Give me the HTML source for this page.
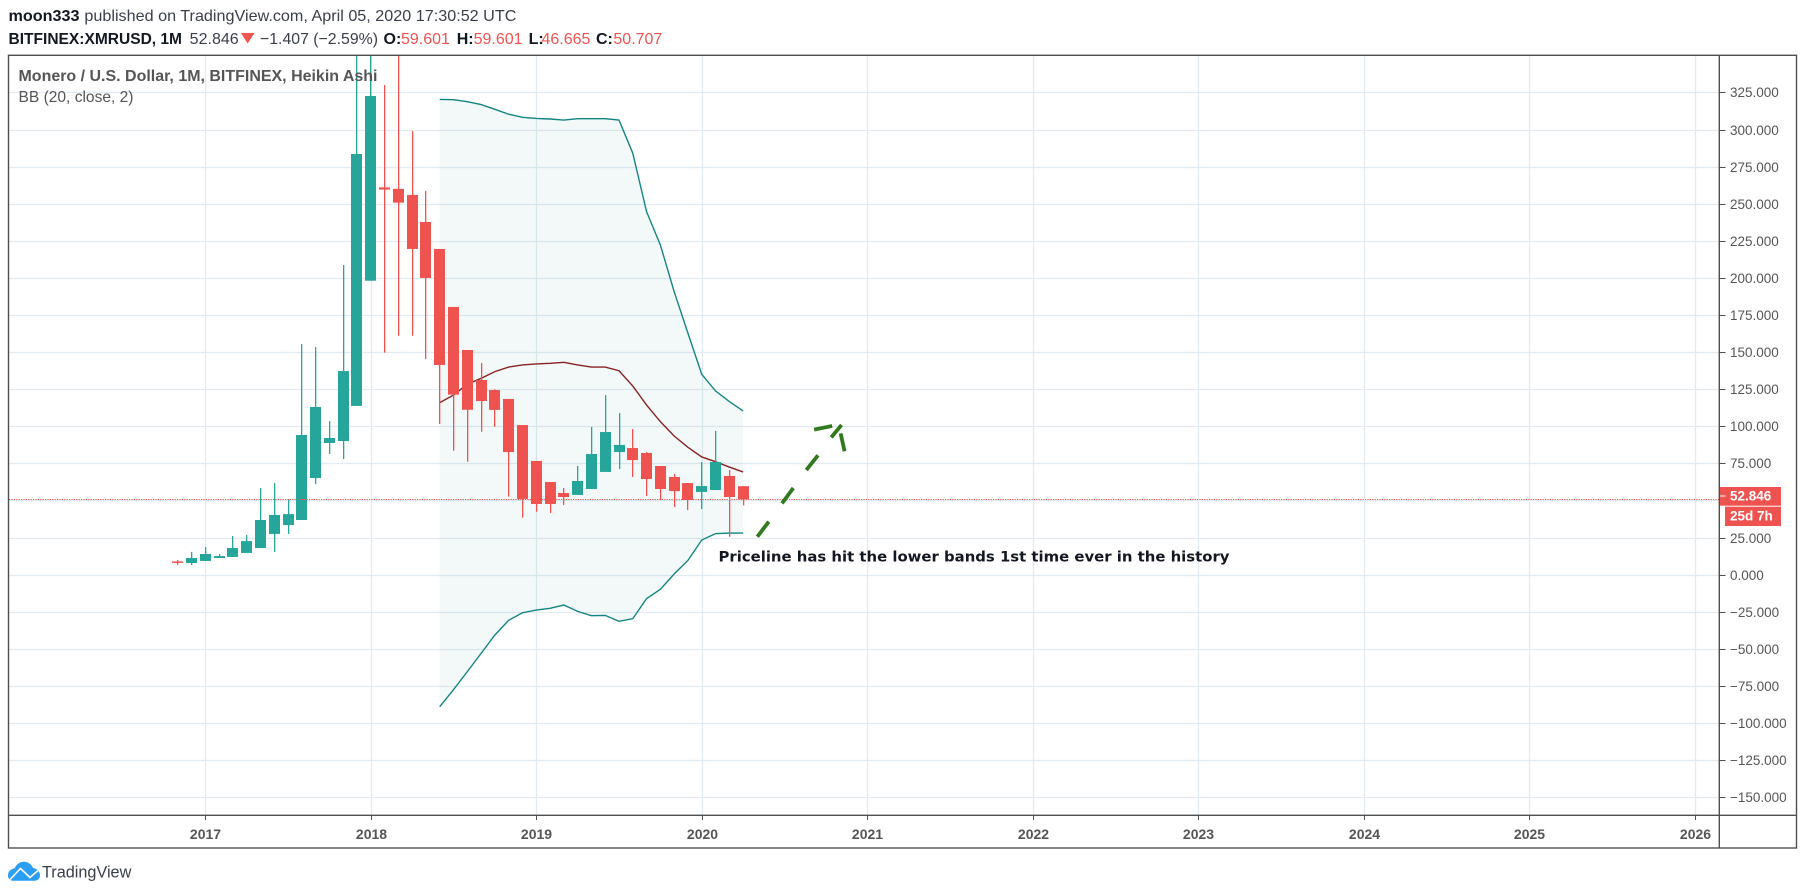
<!DOCTYPE html>
<html lang="en">
<head>
<meta charset="utf-8">
<title>XMRUSD Heikin Ashi chart</title>
<style>
  html, body { margin: 0; padding: 0; background: #fff; }
  svg { display: block; font-family: "Liberation Sans", Arial, sans-serif; }
</style>
</head>
<body>
<svg id="chart" xmlns="http://www.w3.org/2000/svg" width="1805" height="895" viewBox="0 0 1805 895">
  <defs>
    <clipPath id="pane-clip"><rect x="9" y="56" width="1710" height="759"/></clipPath>
  </defs>
  <rect x="0" y="0" width="1805" height="895" fill="#ffffff"/>

  <g>
    <text x="8.5" y="21" font-size="16" font-weight="700" fill="#131722" textLength="71" lengthAdjust="spacingAndGlyphs">moon333</text>
    <text x="84.4" y="21" font-size="16" fill="#3a3e49" textLength="432" lengthAdjust="spacingAndGlyphs">published on TradingView.com, April 05, 2020 17:30:52 UTC</text>
  </g>
  <g>
    <text x="8.5" y="44" font-size="16" font-weight="700" fill="#131722" textLength="173.5" lengthAdjust="spacingAndGlyphs">BITFINEX:XMRUSD, 1M</text>
    <text x="189.7" y="44" font-size="16" fill="#3a3e49" textLength="49" lengthAdjust="spacingAndGlyphs">52.846</text>
    <polygon points="241,33 254.5,33 247.7,43.5" fill="#ef5350"/>
    <text x="260" y="44" font-size="16" fill="#3a3e49" textLength="118" lengthAdjust="spacingAndGlyphs">−1.407 (−2.59%)</text>
    <text x="383.5" y="44" font-size="16" font-weight="700" fill="#131722">O:</text>
    <text x="401" y="44" font-size="16" fill="#ef5350">59.601</text>
    <text x="456.7" y="44" font-size="16" font-weight="700" fill="#131722">H:</text>
    <text x="473.6" y="44" font-size="16" fill="#ef5350">59.601</text>
    <text x="528.6" y="44" font-size="16" font-weight="700" fill="#131722">L:</text>
    <text x="541.5" y="44" font-size="16" fill="#ef5350">46.665</text>
    <text x="596" y="44" font-size="16" font-weight="700" fill="#131722">C:</text>
    <text x="613.4" y="44" font-size="16" fill="#ef5350">50.707</text>
  </g>

  <g id="grid"></g>
  <g id="bands" clip-path="url(#pane-clip)"></g>
  <g id="bars" clip-path="url(#pane-clip)"></g>
  <g id="price-line"></g>
  <g id="arrow" clip-path="url(#pane-clip)"></g>

  <text x="718.5" y="561.5" font-family="'DejaVu Sans', 'Liberation Sans', sans-serif" font-size="14" font-weight="700" fill="#131722" textLength="511" lengthAdjust="spacingAndGlyphs">Priceline has hit the lower bands 1st time ever in the history</text>

  <text x="18.5" y="81" font-size="16" font-weight="700" fill="#555555" textLength="359" lengthAdjust="spacingAndGlyphs">Monero / U.S. Dollar, 1M, BITFINEX, Heikin Ashi</text>
  <text x="18.5" y="102" font-size="16" fill="#555555" textLength="115" lengthAdjust="spacingAndGlyphs">BB (20, close, 2)</text>

  <g id="axes"></g>

  <g fill="none" stroke="#4f4f4f" stroke-width="1.4">
    <rect x="8.5" y="55.3" width="1788" height="792.7"/>
    <line x1="1719.3" y1="55" x2="1719.3" y2="848"/>
    <line x1="8.5" y1="815.3" x2="1796.5" y2="815.3"/>
  </g>

  <g>
    <rect x="1720" y="487" width="61" height="18.7" fill="#ef5350"/>
    <line x1="1720" y1="496" x2="1725.5" y2="496" stroke="#ffffff" stroke-width="1"/>
    <text x="1730" y="500.5" font-size="13.5" font-weight="700" fill="#ffffff">52.846</text>
    <rect x="1725" y="506.7" width="56" height="19.3" fill="#ef5350"/>
    <text x="1730" y="520.5" font-size="13.5" font-weight="700" fill="#ffffff">25d 7h</text>
  </g>

  <g>
    <path d="M8 875.500 C8 871.500 10.500 869 14.500 868.500 C16.500 864 20 861.700 24 861.700 C28.500 861.700 31.500 864.500 33 868 C37 868.500 40 871.500 40 875.500 C40 878.500 37.500 880.700 35 880.700 L13 880.700 C10 880.700 8 878.500 8 875.500 Z" fill="#2a9df4"/>
    <polyline points="10,879.500 20.500,868.500 30,877.500 38,870.500" fill="none" stroke="#ffffff" stroke-width="1.6"/>
    <text x="42" y="877.500" font-size="17" fill="#3a3e49" textLength="89.300" lengthAdjust="spacingAndGlyphs">TradingView</text>
  </g>
</svg>

<script>
const SVG_NS = 'http://www.w3.org/2000/svg';

// Monthly Heikin Ashi candles
const barMonths = ['2016-11','2016-12','2017-01','2017-02','2017-03','2017-04','2017-05','2017-06','2017-07','2017-08','2017-09','2017-10','2017-11','2017-12','2018-01','2018-02','2018-03','2018-04','2018-05','2018-06','2018-07','2018-08','2018-09','2018-10','2018-11','2018-12','2019-01','2019-02','2019-03','2019-04','2019-05','2019-06','2019-07','2019-08','2019-09','2019-10','2019-11','2019-12','2020-01','2020-02','2020-03','2020-04'];
const opens  = [8.9,7.8,9.2,11.2,11.9,14.6,17.9,27.4,33.4,36.8,65.1,88.7,90,113.7,198.1,261,260,255.9,237.7,219.5,180.4,151.4,131.2,124.4,118.4,100.8,76.6,62.4,55,53.7,57.7,69.2,82.6,85.3,82,73.2,65.8,61.7,55.7,57,66.5,59.601];
const closes = [7.9,11.2,13.9,12.5,17.9,22.6,36.8,40.2,40.8,94.1,113,92.1,137.2,283.5,322.6,259.5,250.7,219.5,199.9,141.3,121.3,111.1,117,111,82.6,51,47.6,47.6,52.3,63.1,81.3,96.1,87.4,77.2,64.4,57.7,56.3,50.3,59.7,75.9,52.3,50.707];
const highs  = [9.8,15.3,18.6,13.9,26,26.7,58.4,61.7,51,155.4,153.4,103.5,208.7,400,400,330,400,299,258.6,219.5,180.4,151.4,142.6,124.9,118.4,100.8,76.6,62.4,58.4,73.2,99.5,121,108.9,98.1,82.6,73.2,67.8,61.7,75.9,96.8,70.5,59.601];
const lows   = [6.5,6.5,9.2,11.2,11.9,14.6,17.9,15.2,27.4,36.8,61,81.3,77.9,113.7,198.1,149.6,161,161,145.3,101.5,83.5,76.1,96.3,99.7,52.5,38.4,42.4,41.5,46.9,53.7,57.7,69.2,71.2,65.8,53,50.3,45.6,43.5,44.2,57,25.5,46.665];

// Bollinger Bands (20, close, 2)
const bandMonths = ['2018-06','2018-07','2018-08','2018-09','2018-10','2018-11','2018-12','2019-01','2019-02','2019-03','2019-04','2019-05','2019-06','2019-07','2019-08','2019-09','2019-10','2019-11','2019-12','2020-01','2020-02','2020-03','2020-04'];
const bandUpper = [320.3,320.1,318.8,316.8,313.6,310.3,308.2,307.5,307.1,306.4,307.3,307.3,307.3,306.4,284,244.6,222.2,190.7,162.7,135,123.8,116.6,110.3];
const bandBasis = [115.9,121,128.3,132.3,136.8,139.9,141.3,142,142.4,143.1,141.3,139.9,139.9,137.4,127.1,114.3,103.1,93.4,85.8,79.3,76.1,72.5,69.2];
const bandLower = [-89,-77.6,-65.4,-53.1,-40.7,-30.8,-25.7,-23.9,-22.7,-20.5,-24.8,-27.7,-27.5,-31.5,-29.7,-16.2,-9.9,0.4,9.6,23.3,27.6,28,28];

// Axis tick labels
const priceTicks = [325,300,275,250,225,200,175,150,125,100,75,50,25,0,-25,-50,-75,-100,-125,-150];
const yearTicks = [2017,2018,2019,2020,2021,2022,2023,2024,2025,2026];

// Last close used for the price line
const lastClose = [50.707];

// Forecast arrow dashes: month offsets from Jan 2017 and prices
const arrowStartMonths = [40.03,41.82,43.58,44.15,45.39,46.07];
const arrowStartValues = [25.5,48,70.5,97.7,92.5,95.2];
const arrowEndMonths   = [40.86,42.64,44.43,45.46,46.14,46.36];
const arrowEndValues   = [35.7,58.4,80.4,100.2,100.9,83.1];

function monthIndex(label) {
  const parts = label.split('-');
  return (Number(parts[0]) - 2017) * 12 + Number(parts[1]) - 1;
}
function xAt(index) { return 205.3 + index * 13.79; }
function yAt(value) { return 574.6 - value * 1.4836; }
function make(tag, attrs) {
  const el = document.createElementNS(SVG_NS, tag);
  for (const key in attrs) el.setAttribute(key, attrs[key]);
  return el;
}
function pointsFrom(months, values) {
  return months.map((m, i) => xAt(monthIndex(m)).toFixed(2) + ',' + yAt(values[i]).toFixed(2));
}

const gridLayer = document.getElementById('grid');
const axesLayer = document.getElementById('axes');
const bandLayer = document.getElementById('bands');
const barLayer = document.getElementById('bars');
const priceLayer = document.getElementById('price-line');
const arrowLayer = document.getElementById('arrow');

priceTicks.forEach(v => {
  const y = Math.round(yAt(v)) + 0.5;
  const gridLine = make('line', { x1: 9, y1: y, x2: 1719, y2: y, stroke: '#e1ebf1', 'stroke-width': 1.3 });
  
  
  gridLayer.appendChild(gridLine);
  const tick = make('line', { x1: 1719.5, y1: y, x2: 1725.5, y2: y, stroke: '#4f4f4f', 'stroke-width': 1 });
  
  
  axesLayer.appendChild(tick);
  const label = make('text', { x: 1730, y: y + 4.5, 'font-size': 13.5, fill: '#555555' });
  label.textContent = (v < 0 ? '−' : '') + Math.abs(v).toFixed(3);
  
  
  axesLayer.appendChild(label);
});

yearTicks.forEach(year => {
  const x = Math.round(xAt(monthIndex(year + '-01'))) + 0.5;
  const gridLine = make('line', { x1: x, y1: 56, x2: x, y2: 815, stroke: '#e1ebf1', 'stroke-width': 1.3 });
  
  
  gridLayer.appendChild(gridLine);
  const tick = make('line', { x1: x, y1: 815, x2: x, y2: 820, stroke: '#4f4f4f', 'stroke-width': 1 });
  
  
  axesLayer.appendChild(tick);
  const label = make('text', { x: x, y: 839, 'font-size': 14, 'font-weight': 700, fill: '#555555', 'text-anchor': 'middle' });
  label.textContent = String(year);
  
  
  axesLayer.appendChild(label);
});

const upperPts = pointsFrom(bandMonths, bandUpper);
const basisPts = pointsFrom(bandMonths, bandBasis);
const lowerPts = pointsFrom(bandMonths, bandLower);

const bandFill = make('polygon', { points: upperPts.concat(lowerPts.slice().reverse()).join(' '), fill: '#138484', 'fill-opacity': 0.05 });


bandLayer.appendChild(bandFill);

const upperLine = make('polyline', { points: upperPts.join(' '), fill: 'none', stroke: '#138484', 'stroke-width': 1.4 });


bandLayer.appendChild(upperLine);

const basisLine = make('polyline', { points: basisPts.join(' '), fill: 'none', stroke: '#872323', 'stroke-width': 1.4 });


bandLayer.appendChild(basisLine);

const lowerLine = make('polyline', { points: lowerPts.join(' '), fill: 'none', stroke: '#138484', 'stroke-width': 1.4 });


bandLayer.appendChild(lowerLine);

barMonths.forEach((month, i) => {
  const color = closes[i] >= opens[i] ? '#26a69a' : '#ef5350';
  const xc = xAt(monthIndex(month));
  const wickTop = yAt(highs[i]);
  const wick = make('rect', { x: Math.round(xc - 0.5), y: wickTop, width: 1.3, height: yAt(lows[i]) - wickTop, fill: color });
  
  
  barLayer.appendChild(wick);
  const bodyTop = yAt(Math.max(opens[i], closes[i]));
  const bodyBottom = yAt(Math.min(opens[i], closes[i]));
  const body = make('rect', { x: Math.round(xc - 5.5), y: bodyTop, width: 11, height: Math.max(bodyBottom - bodyTop, 1.5), fill: color });
  
  
  barLayer.appendChild(body);
});

const priceY = Math.round(yAt(lastClose[0])) + 0.5;
const priceLine = make('line', { x1: 9, y1: priceY, x2: 1719, y2: priceY, stroke: '#ef5350', 'stroke-width': 1, 'stroke-dasharray': '1.2 1.2' });


priceLayer.appendChild(priceLine);

arrowStartMonths.forEach((m, i) => {
  const dash = make('line', { x1: xAt(m), y1: yAt(arrowStartValues[i]), x2: xAt(arrowEndMonths[i]), y2: yAt(arrowEndValues[i]), stroke: '#33791f', 'stroke-width': 3.8 });
  
  
  arrowLayer.appendChild(dash);
});
</script>
</body>
</html>
